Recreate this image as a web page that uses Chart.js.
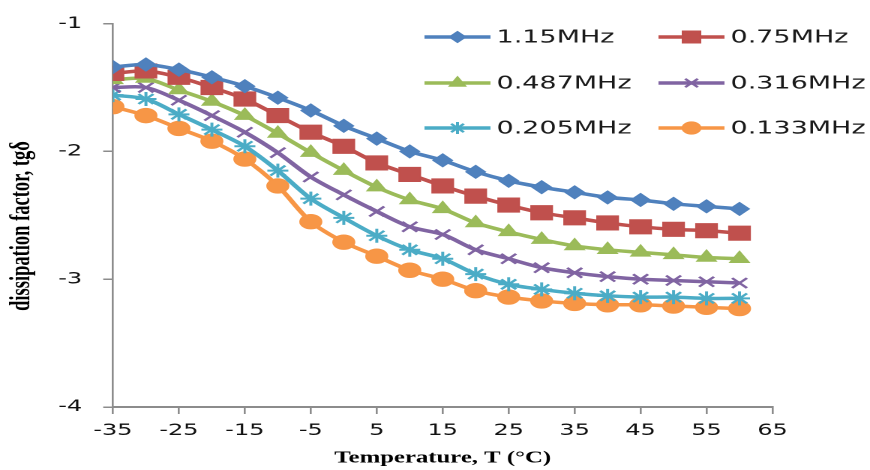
<!DOCTYPE html>
<html>
<head>
<meta charset="utf-8">
<script src="https://cdn.jsdelivr.net/npm/chart.js@4/dist/chart.umd.min.js"></script>
<style>
  html, body { margin: 0; padding: 0; background: #fff; overflow: hidden; }
  /* the original picture is stretched sideways, so draw narrow and scale */
  #wrap { width: 580px; height: 470px; transform: scaleX(1.5); transform-origin: 0 0; }
</style>
</head>
<body>
<div id="wrap"><canvas id="chart"></canvas></div>
<script>
const temps = [-35, -30, -25, -20, -15, -10, -5, 0, 5, 10, 15, 20, 25, 30, 35, 40, 45, 50, 55, 60]
const xTicks = [-35, -25, -15, -5, 5, 15, 25, 35, 45, 55, 65]
const yTicks = [-4, -3, -2, -1]

const labels = ["1.15MHz", "0.75MHz", "0.487MHz", "0.316MHz", "0.205MHz", "0.133MHz"]
const f115 = [-1.34, -1.32, -1.36, -1.42, -1.49, -1.58, -1.68, -1.80, -1.90, -2.00, -2.07, -2.16, -2.23, -2.28, -2.32, -2.36, -2.38, -2.41, -2.43, -2.45]
const f075 = [-1.39, -1.37, -1.42, -1.50, -1.59, -1.72, -1.85, -1.96, -2.09, -2.18, -2.27, -2.35, -2.42, -2.48, -2.52, -2.56, -2.59, -2.61, -2.62, -2.64]
const f0487 = [-1.44, -1.43, -1.52, -1.61, -1.72, -1.86, -2.01, -2.15, -2.28, -2.38, -2.45, -2.56, -2.63, -2.69, -2.74, -2.77, -2.79, -2.81, -2.83, -2.84]
const f0316 = [-1.50, -1.50, -1.60, -1.72, -1.85, -2.01, -2.20, -2.34, -2.47, -2.59, -2.65, -2.77, -2.84, -2.91, -2.95, -2.98, -3.00, -3.01, -3.02, -3.03]
const f0205 = [-1.56, -1.59, -1.71, -1.83, -1.96, -2.15, -2.37, -2.52, -2.66, -2.77, -2.84, -2.96, -3.04, -3.08, -3.11, -3.13, -3.14, -3.14, -3.15, -3.15]
const f0133 = [-1.65, -1.72, -1.82, -1.92, -2.06, -2.27, -2.55, -2.71, -2.82, -2.93, -3.00, -3.09, -3.14, -3.17, -3.19, -3.20, -3.20, -3.21, -3.22, -3.23]

const series = [f115, f075, f0487, f0316, f0205, f0133]
const colors = ["#4F81BD", "#C0504D", "#9BBB59", "#8064A2", "#4BACC6", "#F79646"]
const styles = ["rectRot", "rect", "triangle", "crossRot", "star", "circle"]
const radii = [6.5, 10, 7.5, 7, 7, 7.2]

const makeDataset = (i) => ({
  label: labels[i],
  data: temps.map((t, j) => ({x: t, y: series[i][j]})),
  borderColor: colors[i],
  backgroundColor: colors[i],
  pointBackgroundColor: colors[i],
  pointBorderColor: colors[i],
  pointStyle: styles[i],
  pointRadius: radii[i],
  pointBorderWidth: (styles[i] == "crossRot" || styles[i] == "star") ? 2 : 1,
  borderWidth: 3.5,
  tension: 0.3,
})

// legend drawn inside the plot, 2 columns x 3 rows
const insideLegend = {
  id: 'insideLegend',
  afterDraw: (chart, args, opts) => {
    const {ctx} = chart
    ctx.save()
    chart.data.datasets.forEach((ds, i) => {
      const x0 = opts.cols[i % 2]
      const y = opts.rows[Math.floor(i / 2)]
      ctx.strokeStyle = ds.borderColor
      ctx.lineWidth = 3.5
      ctx.beginPath()
      ctx.moveTo(x0, y)
      ctx.lineTo(x0 + opts.lineLen, y)
      ctx.stroke()
      if (Chart.helpers && Chart.helpers.drawPoint) {
        ctx.fillStyle = ds.pointBackgroundColor
        ctx.lineWidth = ds.pointBorderWidth
        Chart.helpers.drawPoint(ctx, {pointStyle: ds.pointStyle, radius: ds.pointRadius * 0.85, rotation: 0, borderWidth: ds.pointBorderWidth}, x0 + opts.lineLen / 2, y)
      }
      ctx.fillStyle = '#1a1a1a'
      ctx.font = '18px "DejaVu Sans"'
      ctx.textBaseline = 'middle'
      ctx.textAlign = 'left'
      ctx.fillText(ds.label, x0 + opts.lineLen + 4, y + 1)
    })
    ctx.restore()
  }
}

// y title, sits a bit below the middle of the axis like the original
const yTitle = {
  id: 'yTitle',
  afterDraw: (chart, args, opts) => {
    const {ctx} = chart
    ctx.save()
    ctx.translate(opts.x, opts.y)
    ctx.rotate(-Math.PI / 2)
    ctx.font = 'bold 18.5px "Liberation Serif"'
    ctx.fillStyle = '#000'
    ctx.textAlign = 'center'
    ctx.textBaseline = 'middle'
    ctx.fillText(opts.text, 0, 0)
    ctx.restore()
  }
}

new Chart(document.getElementById("chart"), {
  type: "line",
  data: {
    datasets: series.map((s, i) => makeDataset(i))
  },
  options: {
    responsive: true,
    maintainAspectRatio: false,
    animation: false,
    devicePixelRatio: 2,
    layout: {
      padding: {top: 17, right: 65, bottom: 0, left: 0}
    },
    plugins: {
      legend: {display: false},
      tooltip: {enabled: false},
      insideLegend: {cols: [283, 439], rows: [37, 83, 128], lineLen: 44},
      yTitle: {x: 14.7, y: 226, text: "dissipation factor, tgδ"},
    },
    scales: {
      x: {
        type: "linear",
        min: -35,
        max: 65,
        afterBuildTicks: (scale) => { scale.ticks = xTicks.map(v => ({value: v})) },
        afterFit: (scale) => { scale.height = 63 },
        grid: {display: true, drawOnChartArea: false, drawTicks: true, tickLength: 7, color: "#8c8c8c", lineWidth: 1.3},
        border: {display: true, color: "#8c8c8c", width: 2},
        ticks: {color: "#111", font: {family: "DejaVu Sans", size: 16}, padding: 7, maxRotation: 0, autoSkip: false},
        title: {display: true, text: "Temperature, T (°C)", color: "#000", font: {family: "Liberation Serif", size: 16.5, weight: "bold"}, padding: {top: 0, bottom: 2}},
      },
      y: {
        min: -4,
        max: -1,
        afterBuildTicks: (scale) => { scale.ticks = yTicks.map(v => ({value: v})) },
        afterFit: (scale) => { scale.width = 75.3 },
        grid: {display: true, drawOnChartArea: false, drawTicks: true, tickLength: 6.5, color: "#8c8c8c", lineWidth: 1.5},
        border: {display: true, color: "#8c8c8c", width: 1.3},
        ticks: {color: "#111", font: {family: "DejaVu Sans", size: 16}, padding: 14},
      }
    }
  },
  plugins: [insideLegend, yTitle],
})
</script>
</body>
</html>
